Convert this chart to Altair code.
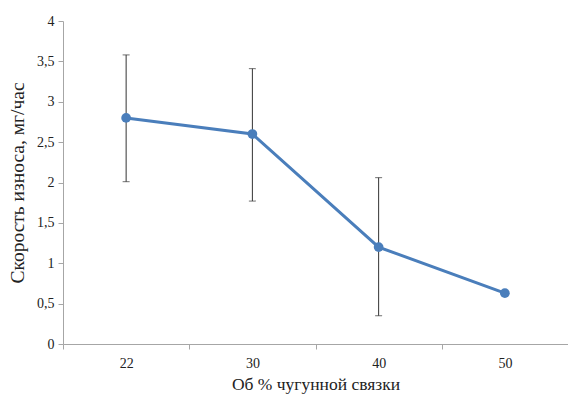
import altair as alt
import pandas as pd

categories = ["22", "30", "40", "50"]
values = [2.8, 2.6, 1.2, 0.63]
err_low = [2.01, 1.77, 0.35, None]
err_high = [3.58, 3.41, 2.06, None]

df = pd.DataFrame({"cat": categories, "val": values, "lo": err_low, "hi": err_high})
err_df = df.dropna()

FONT = "'Times New Roman', 'Liberation Serif', 'DejaVu Serif', serif"
BLUE = "#4a7ebb"
TXT = "#222222"

x = alt.X("cat:N", sort=categories, title="Об % чугунной связки",
          scale=alt.Scale(paddingInner=0, paddingOuter=0),
          axis=alt.Axis(labelAngle=0, tickBand="extent", labelPadding=7,
                        labelFont=FONT, labelFontSize=14, labelColor=TXT,
                        titleFont=FONT, titleColor=TXT,
                        titlePadding=5, titleFontSize=17.5, titleFontWeight="normal"))
y = alt.Y("val:Q", title="Скорость износа, мг/час",
          scale=alt.Scale(domain=[0, 4]),
          axis=alt.Axis(values=[0, 0.5, 1, 1.5, 2, 2.5, 3, 3.5, 4], grid=False,
                        format=".1~f",
                        labelExpr="replace(datum.label, '.', ',')",
                        labelFont=FONT, labelFontSize=14, labelColor=TXT,
                        titleFont=FONT, titleColor=TXT,
                        labelPadding=4, titlePadding=9, titleFontSize=19.5,
                        titleFontWeight="normal"))

rules = alt.Chart(err_df).mark_rule(color="#333333", strokeWidth=1).encode(
    x=alt.X("cat:N", sort=categories), y="lo:Q", y2="hi:Q")
caps_lo = alt.Chart(err_df).mark_tick(color="#333333", thickness=1, size=7, orient="horizontal").encode(
    x=alt.X("cat:N", sort=categories), y="lo:Q")
caps_hi = alt.Chart(err_df).mark_tick(color="#333333", thickness=1, size=7, orient="horizontal").encode(
    x=alt.X("cat:N", sort=categories), y="hi:Q")
line = alt.Chart(df).mark_line(color=BLUE, strokeWidth=3).encode(x=x, y=y)
pts = alt.Chart(df).mark_circle(color=BLUE, size=95, opacity=1).encode(x=x, y=y)

chart = alt.layer(line, rules, caps_lo, caps_hi, pts).properties(
    width=505, height=323,
    autosize=alt.AutoSizeParams(type="none"),
    padding={"left": 63, "top": 21, "right": 0, "bottom": 53},
).configure_view(stroke=None).configure_axis(
    domainColor="#a6a6a6", tickColor="#a6a6a6", tickSize=5,
)

chart.save("out.html", embed_options={"renderer": "svg", "actions": False})
